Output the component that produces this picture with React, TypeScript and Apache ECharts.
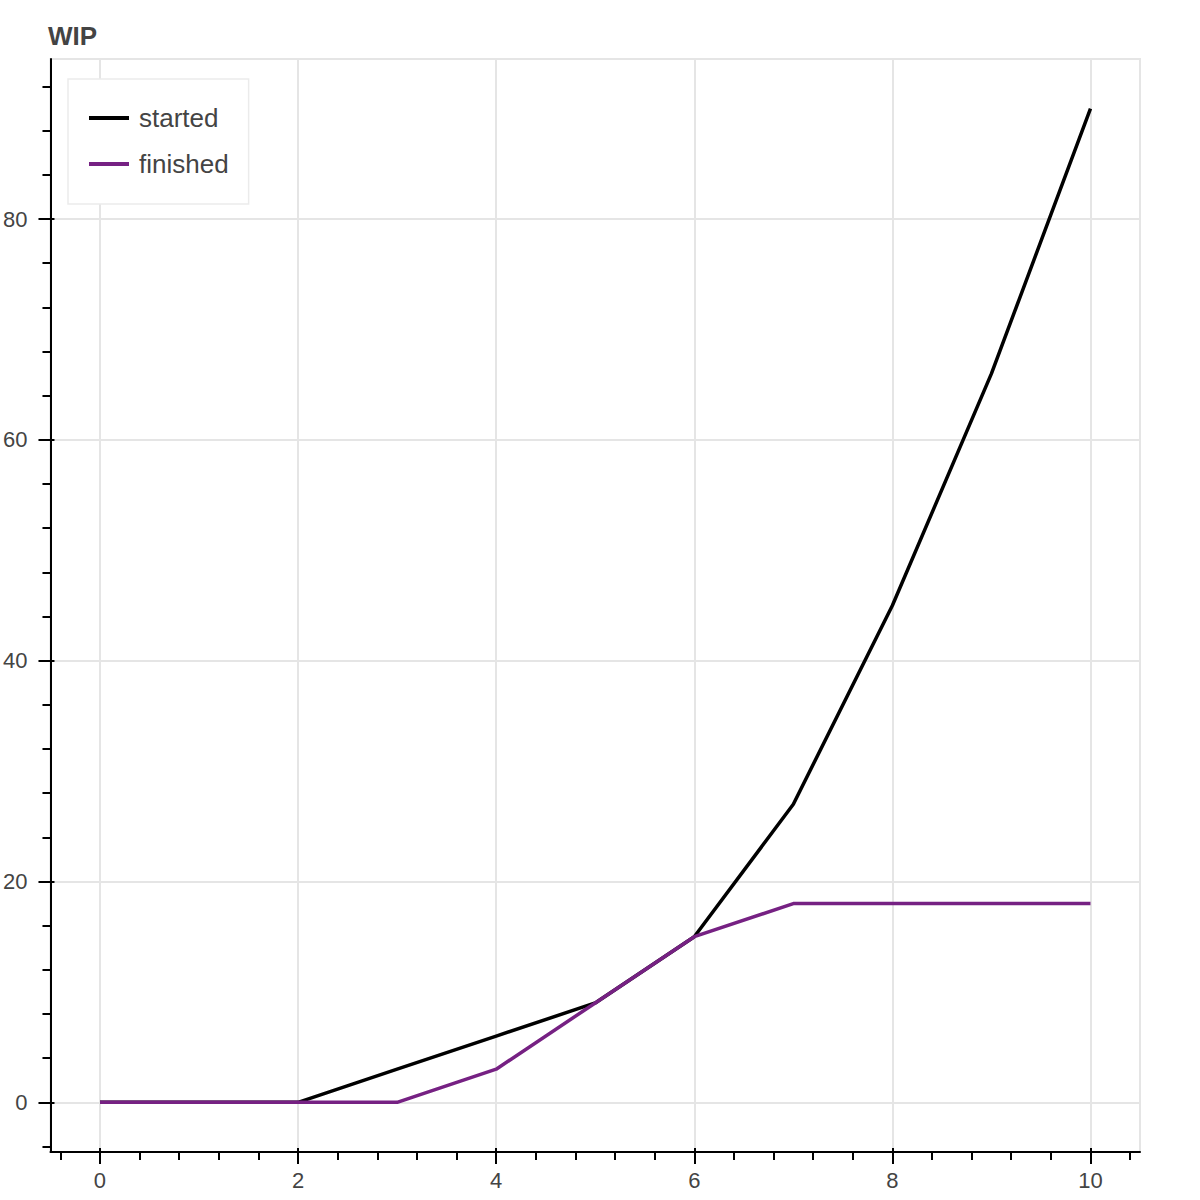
import React, { useEffect, useRef } from "react";
import * as echarts from "echarts";

const xValues = [0, 1, 2, 3, 4, 5, 6, 7, 8, 9, 10];
const started = [0, 0, 0, 3, 6, 9, 15, 27, 45, 66, 90];
const finished = [0, 0, 0, 0, 3, 9, 15, 18, 18, 18, 18];
const xMajorTicks = [0, 2, 4, 6, 8, 10];
const xMinorTicks = [-0.4, 0.4, 0.8, 1.2, 1.6, 2.4, 2.8, 3.2, 3.6, 4.4, 4.8, 5.2, 5.6, 6.4, 6.8, 7.2, 7.6, 8.4, 8.8, 9.2, 9.6, 10.4];
const yMajorTicks = [0, 20, 40, 60, 80];
const yMinorTicks = [-4, 4, 8, 12, 16, 24, 28, 32, 36, 44, 48, 52, 56, 64, 68, 72, 76, 84, 88, 92];

const FONT = "'Liberation Sans', Arial, Helvetica, sans-serif";
const X_MIN = -0.5, X_MAX = 10.5, Y_MIN = -4.5, Y_MAX = 94.5;

export default function App() {
  const ref = useRef<HTMLDivElement>(null);
  useEffect(() => {
    if (!ref.current) return;
    const chart = echarts.init(ref.current, null, { renderer: "svg" });
    const baseX = { type: "value", min: X_MIN, max: X_MAX, position: "bottom", gridIndex: 0 };
    const baseY = { type: "value", min: Y_MIN, max: Y_MAX, position: "left", gridIndex: 0 };
    const hiddenLine = { show: false, onZero: false };
    const tickAxis = (base: any, values: number[], length: number, inside: boolean) => ({
      ...base,
      axisLine: hiddenLine,
      axisTick: { show: true, inside, customValues: values, length, lineStyle: { color: "#000", width: 2 } },
      axisLabel: { show: false },
      splitLine: { show: false },
    });
    chart.setOption({
      animation: false,
      backgroundColor: "#ffffff",
      textStyle: { fontFamily: FONT },
      title: {
        text: "WIP",
        left: 43,
        top: 18,
        textStyle: { fontFamily: FONT, fontSize: 26, fontWeight: "bold", color: "#444444" },
      },
      legend: {
        orient: "vertical",
        left: 68,
        top: 79,
        padding: [26, 20, 27, 21],
        backgroundColor: "#ffffff",
        borderColor: "#ebebeb",
        borderWidth: 1.5,
        itemWidth: 40,
        itemHeight: 4,
        itemGap: 20,
        icon: "rect",
        data: ["started", "finished"],
        textStyle: { fontFamily: FONT, fontSize: 26, color: "#444444", lineHeight: 26, padding: [0, 0, 0, 5] },
      },
      grid: {
        left: 49,
        right: 60,
        top: 59,
        bottom: 48,
        show: true,
        borderColor: "#e5e5e5",
        borderWidth: 2,
      },
      xAxis: [
        {
          ...baseX,
          axisLine: { show: true, onZero: false, lineStyle: { color: "#000", width: 2 } },
          axisTick: { show: false },
          axisLabel: { customValues: xMajorTicks, fontSize: 22, color: "#444444", margin: 17, fontFamily: FONT },
          splitLine: { show: true, lineStyle: { color: "#e5e5e5", width: 2 } },
        },
        tickAxis(baseX, xMinorTicks, 8, false),
        tickAxis(baseX, xMajorTicks, 4, true),
        tickAxis(baseX, xMajorTicks, 12, false),
      ],
      yAxis: [
        {
          ...baseY,
          axisLine: { show: true, onZero: false, lineStyle: { color: "#000", width: 2 } },
          axisTick: { show: false },
          axisLabel: { customValues: yMajorTicks, fontSize: 22, color: "#444444", margin: 23, fontFamily: FONT },
          splitLine: { show: true, lineStyle: { color: "#e5e5e5", width: 2 } },
        },
        tickAxis(baseY, yMinorTicks, 8, false),
        tickAxis(baseY, yMajorTicks, 4, true),
        tickAxis(baseY, yMajorTicks, 12, false),
      ],
      series: [
        {
          name: "started",
          type: "line",
          xAxisIndex: 0,
          yAxisIndex: 0,
          showSymbol: false,
          symbol: "none",
          color: "#000000",
          lineStyle: { color: "#000000", width: 3.5 },
          data: xValues.map((x, i) => [x, started[i]]),
        },
        {
          name: "finished",
          type: "line",
          xAxisIndex: 0,
          yAxisIndex: 0,
          showSymbol: false,
          symbol: "none",
          color: "#762183",
          lineStyle: { color: "#762183", width: 3.5 },
          data: xValues.map((x, i) => [x, finished[i]]),
        },
      ],
    });
    return () => chart.dispose();
  }, []);
  return <div ref={ref} style={{ position: "absolute", left: 0, top: 0, width: 1200, height: 1200 }} />;
}
